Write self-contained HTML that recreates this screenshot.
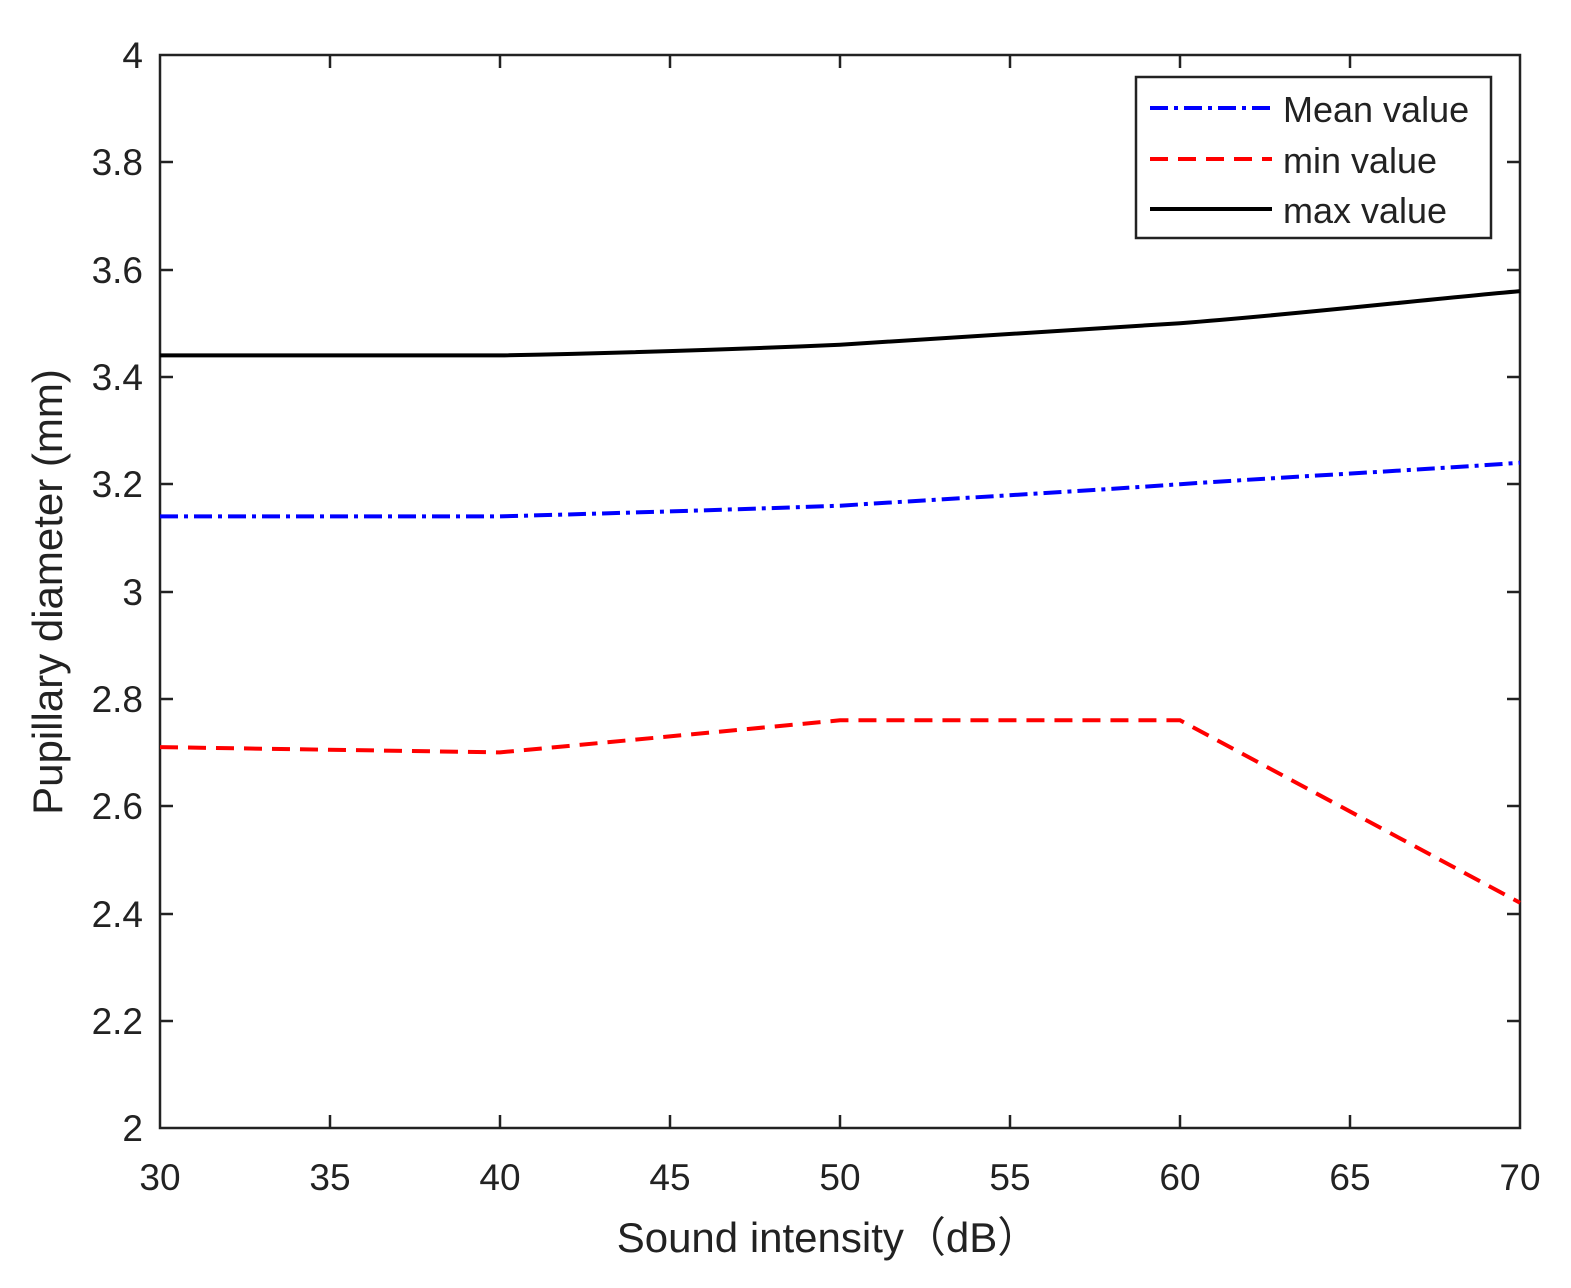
<!DOCTYPE html>
<html><head><meta charset="utf-8"><style>
html,body{margin:0;padding:0;background:#fff;}
svg text{font-family:"Liberation Sans","Noto Sans CJK SC",sans-serif;fill:#222;}
</style></head><body>
<svg width="1571" height="1283" viewBox="0 0 1571 1283" xmlns="http://www.w3.org/2000/svg">
<rect width="1571" height="1283" fill="#fff"/>
<g stroke="#222" stroke-width="2.5" fill="none">
<rect x="160" y="55" width="1360" height="1073"/>
<path d="M330 1128v-13M500 1128v-13M670 1128v-13M840 1128v-13M1010 1128v-13M1180 1128v-13M1350 1128v-13
M330 55v13M500 55v13M670 55v13M840 55v13M1010 55v13M1180 55v13M1350 55v13
M160 1021h13M160 914h13M160 806h13M160 699h13M160 592h13M160 484h13M160 377h13M160 270h13M160 162h13
M1520 1021h-13M1520 914h-13M1520 806h-13M1520 699h-13M1520 592h-13M1520 484h-13M1520 377h-13M1520 270h-13M1520 162h-13"/>
</g>
<g font-size="37" text-anchor="middle">
<text x="160" y="1190">30</text><text x="330" y="1190">35</text><text x="500" y="1190">40</text>
<text x="670" y="1190">45</text><text x="840" y="1190">50</text><text x="1010" y="1190">55</text>
<text x="1180" y="1190">60</text><text x="1350" y="1190">65</text><text x="1520" y="1190">70</text>
</g>
<g font-size="37" text-anchor="end">
<text x="143" y="1141">2</text><text x="143" y="1034">2.2</text><text x="143" y="927">2.4</text>
<text x="143" y="819">2.6</text><text x="143" y="712">2.8</text><text x="143" y="605">3</text>
<text x="143" y="497">3.2</text><text x="143" y="390">3.4</text><text x="143" y="283">3.6</text>
<text x="143" y="175">3.8</text><text x="143" y="68">4</text>
</g>
<text x="828" y="1252" font-size="42" text-anchor="middle">Sound intensity（dB）</text>
<text transform="translate(62,592) rotate(-90)" font-size="42" text-anchor="middle">Pupillary diameter (mm)</text>
<path d="M160 355.4 L500 355.4 C620 353 720 350 840 344.7 C960 338 1070 331 1180 323.2 C1300 314 1420 300 1520 291.1" stroke="#000" stroke-width="4" fill="none"/>
<path d="M160 516.4 L500 516.4 C620 513 720 510 840 505.7 C960 498 1070 492 1180 484.2 C1300 476 1420 470 1520 462.7" stroke="#00f" stroke-width="4" fill="none" stroke-dasharray="18,6,4,6"/>
<path d="M160 747.1 L500 752.4 L840 720.3 L1180 720.3 L1520 902.7" stroke="#f00" stroke-width="4" fill="none" stroke-dasharray="18,10"/>
<rect x="1136" y="77" width="355" height="161" fill="#fff" stroke="#222" stroke-width="2.5"/>
<path d="M1150 108H1272" stroke="#00f" stroke-width="4" stroke-dasharray="18,6,4,6"/>
<path d="M1150 159H1272" stroke="#f00" stroke-width="4" stroke-dasharray="18,10"/>
<path d="M1150 209H1272" stroke="#000" stroke-width="4"/>
<g font-size="36">
<text x="1283" y="122">Mean value</text>
<text x="1283" y="173">min value</text>
<text x="1283" y="223">max value</text>
</g>
</svg>
</body></html>
